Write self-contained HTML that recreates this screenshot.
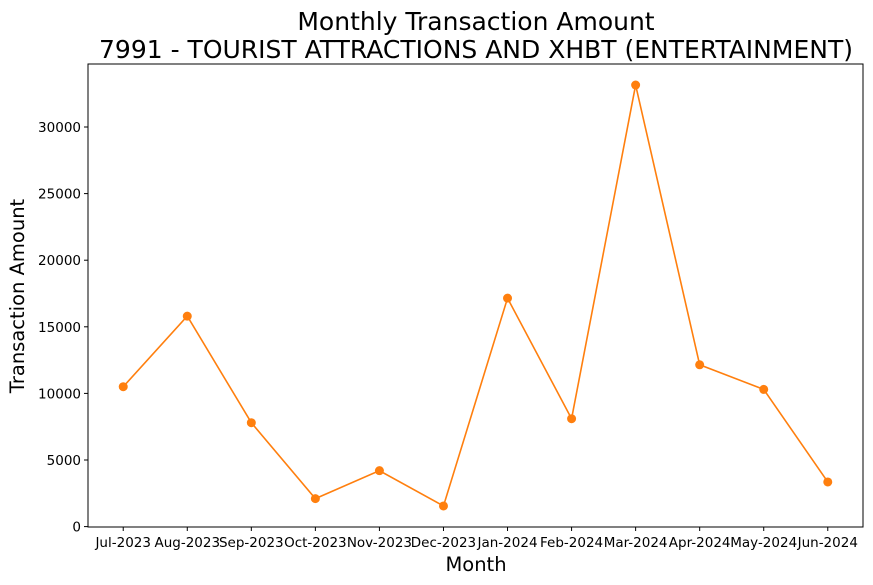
<!DOCTYPE html>
<html><head><meta charset="utf-8">
<style>
html,body{margin:0;padding:0;background:#fff;}
svg{display:block;font-family:"DejaVu Sans","Liberation Sans",sans-serif;}
</style></head>
<body>
<svg id="chart" width="873" height="585" xmlns="http://www.w3.org/2000/svg">
<text x="476" y="30" text-anchor="middle" font-size="25">Monthly Transaction Amount</text>
<text x="476" y="58" text-anchor="middle" font-size="25">7991 - TOURIST ATTRACTIONS AND XHBT (ENTERTAINMENT)</text>
<text x="476" y="571" text-anchor="middle" font-size="19.5">Month</text>
<text transform="translate(24,296) rotate(-90)" text-anchor="middle" font-size="19.5">Transaction Amount</text>
<g id="axes"></g>
</svg>
<script>
const categories = ["Jul-2023","Aug-2023","Sep-2023","Oct-2023","Nov-2023","Dec-2023","Jan-2024","Feb-2024","Mar-2024","Apr-2024","May-2024","Jun-2024"];
const amounts = [10500,15800,7800,2100,4200,1550,17150,8100,33150,12150,10300,3350];
const yTicks = [0,5000,10000,15000,20000,25000,30000];

const NS="http://www.w3.org/2000/svg";
const L=88,R=863,T=64,B=527;
const dmin=Math.min(...amounts),dmax=Math.max(...amounts),rng=dmax-dmin;
const y0=dmin-0.05*rng,y1=dmax+0.05*rng;
const xs=i=>L+(i+0.55)/(categories.length-1+1.1)*(R-L);
const ys=v=>B-(v-y0)/(y1-y0)*(B-T);
const g=document.getElementById('axes');
function mk(tag,attrs,parent){const e=document.createElementNS(NS,tag);for(const k in attrs)e.setAttribute(k,attrs[k]);(parent||g).appendChild(e);return e;}

const frame=mk('rect',{x:L,y:T,width:R-L,height:B-T,fill:'none',stroke:'#000','stroke-width':1});



yTicks.forEach(v=>{
  const y=ys(v);
  const t=mk('line',{x1:L-4,x2:L,y1:y,y2:y,stroke:'#000'});
  
  
  const lb=mk('text',{x:L-7,y:y+5,'text-anchor':'end','font-size':13.5});
  lb.textContent=v;
  
  
});
categories.forEach((c,i)=>{
  const x=xs(i);
  const t=mk('line',{x1:x,x2:x,y1:B,y2:B+4,stroke:'#000'});
  
  
  const lb=mk('text',{x:x,y:B+20,'text-anchor':'middle','font-size':13.5});
  lb.textContent=c;
  
  
});
const pts=amounts.map((v,i)=>xs(i)+','+ys(v)).join(' ');
const line=mk('polyline',{points:pts,fill:'none',stroke:'#ff7f0e','stroke-width':1.6});


amounts.forEach((v,i)=>{
  const c=mk('circle',{cx:xs(i),cy:ys(v),r:4.5,fill:'#ff7f0e'});
  
  
});
</script>
</body></html>
